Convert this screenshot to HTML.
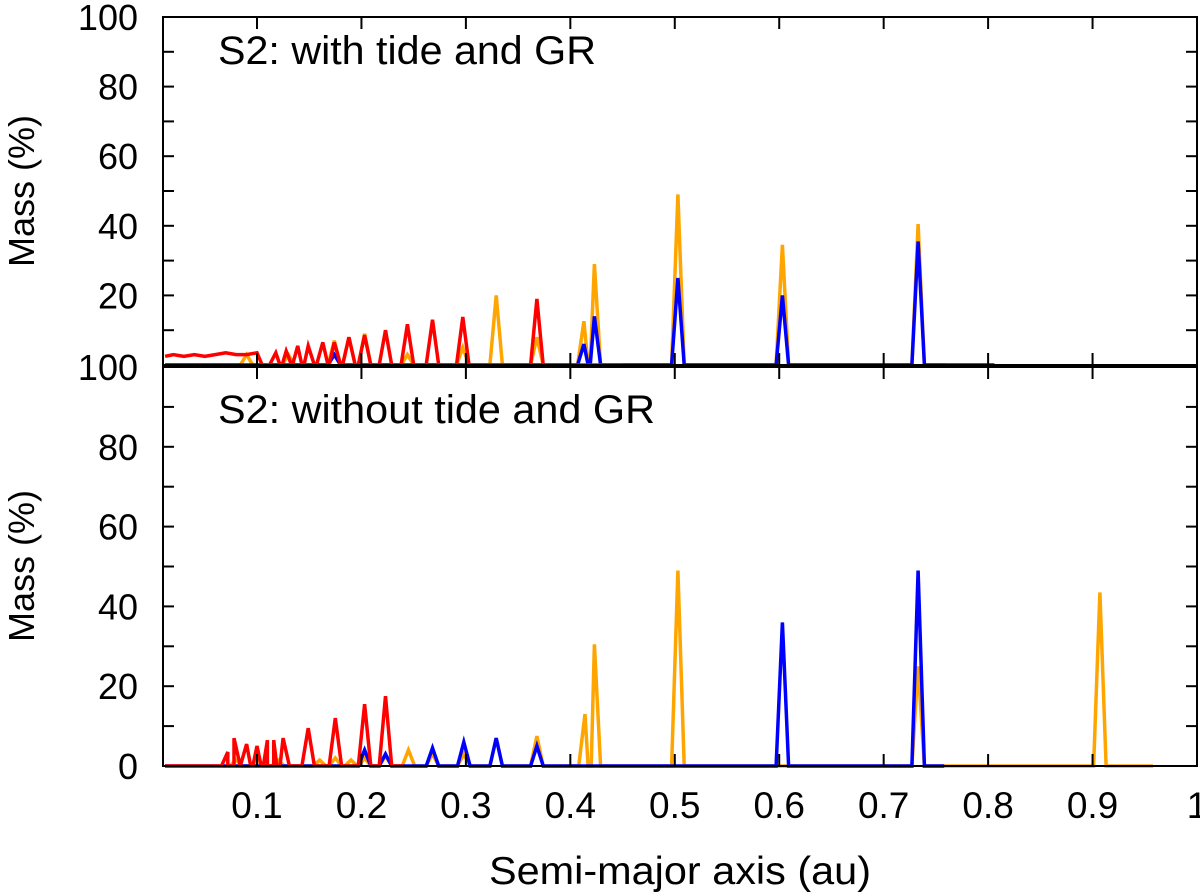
<!DOCTYPE html>
<html><head><meta charset="utf-8"><style>
html,body{margin:0;padding:0;background:#fff;}
svg{display:block;font-family:"Liberation Sans",sans-serif;}
</style></head><body>
<svg id="chart" width="1200" height="893" viewBox="0 0 1200 893">
<defs>
<clipPath id="clipTop"><rect x="163" y="15" width="1034" height="352"/></clipPath>
<clipPath id="clipBot"><rect x="163" y="365" width="1034" height="403"/></clipPath>
</defs>
<g id="marks"></g>
<g id="axes"></g>
<text x="218" y="64" font-size="40" textLength="378" lengthAdjust="spacingAndGlyphs">S2: with tide and GR</text>
<text x="218" y="423" font-size="40" textLength="437" lengthAdjust="spacingAndGlyphs">S2: without tide and GR</text>
<text x="680" y="884" font-size="39" text-anchor="middle" textLength="382" lengthAdjust="spacingAndGlyphs">Semi-major axis (au)</text>
<text transform="translate(34,191) rotate(-90)" font-size="36" text-anchor="middle">Mass (%)</text>
<text transform="translate(34,566) rotate(-90)" font-size="36" text-anchor="middle">Mass (%)</text>
</svg>
<script>
// ---- data ----
const xTicks = [0.1,0.2,0.3,0.4,0.5,0.6,0.7,0.8,0.9,1];
const xTickLabels = ["0.1","0.2","0.3","0.4","0.5","0.6","0.7","0.8","0.9","1"];
const yTicks = [0,20,40,60,80,100];
const yTickLabels = ["0","20","40","60","80","100"];
// top panel (with tide and GR)
const topRedLowA = [0.012,0.02,0.03,0.04,0.05,0.06,0.07,0.08,0.09,0.1,0.105];
const topRedLowM = [2.5,3,2.5,3,2.5,3,3.5,3,3,3.5,0];
const topRedPeakA = [0.118,0.128,0.139,0.149,0.163,0.174,0.188,0.203,0.223,0.244,0.268,0.297,0.368];
const topRedPeakM = [3.5,4,5.5,5.5,6.5,6.5,8,8.6,10,11.7,13,13.8,19];
const topOrangePeakA = [0.09,0.13,0.174,0.188,0.203,0.244,0.297,0.329,0.368,0.413,0.423,0.503,0.603,0.733];
const topOrangePeakM = [3,3,7,8,9,3,5,20,8,12.6,29,49,34.5,40.5];
const topBluePeakA = [0.174,0.413,0.423,0.503,0.603,0.733];
const topBluePeakM = [3,6,14,25,20,35.5];
const topRange = {red:[0.012,0.45], orange:[0.012,0.76], blue:[0.012,0.806]};
// bottom panel (without tide and GR)
const botRedPeakA = [0.072,0.078,0.09,0.1,0.11,0.116,0.125,0.149,0.175,0.203,0.223];
const botRedPeakM = [3.5,7,5.5,5,6.5,6.5,7,9.5,12,15.5,17.5];
const botOrangePeakA = [0.08,0.1,0.12,0.16,0.175,0.19,0.203,0.223,0.245,0.268,0.298,0.329,0.368,0.414,0.423,0.503,0.733,0.907];
const botOrangePeakM = [1.5,1.5,1.5,1.5,2,1.5,2,2.5,4,3,3,7,7.5,13,30.5,49,25,43.5];
const botBluePeakA = [0.203,0.223,0.268,0.298,0.329,0.368,0.603,0.733];
const botBluePeakM = [4,3,4.5,6,7,5,36,49];
const botRange = {red:[0.012,0.24], orange:[0.758,0.958], blue:[0.012,0.758]};

// ---- scales ----
const X0=163, X1=1197, AMIN=0.01, AMAX=1.0;
function xs(a){return X0+(a-AMIN)/(AMAX-AMIN)*(X1-X0);}
const panels = {
  top:{y0:365,y1:17},
  bot:{y0:766,y1:367}
};
function ys(p,m){const P=panels[p];return P.y0+(P.y1-P.y0)*m/100;}
const NS="http://www.w3.org/2000/svg";
const marks=document.getElementById('marks');
const axes=document.getElementById('axes');
const W=0.006;

function buildPoints(range, peakA, peakM, lowA, lowM){
  let pts=[];
  if(lowA){for(let i=0;i<lowA.length;i++)pts.push([lowA[i],lowM[i]]);}
  else pts.push([range[0],0]);
  for(let i=0;i<peakA.length;i++){
    pts.push([peakA[i]-W,0]);pts.push([peakA[i],peakM[i]]);pts.push([peakA[i]+W,0]);
  }
  pts.push([range[1],0]);
  pts.sort((p,q)=>p[0]-q[0]);
  return pts;
}
function drawSeries(panel, pts, color, name){
  const d=pts.map((p,i)=>(i?'L':'M')+xs(p[0]).toFixed(1)+','+ys(panel,p[1]).toFixed(1)).join(' ');
  const path=document.createElementNS(NS,'path');
  path.setAttribute('d',d);
  path.setAttribute('fill','none');
  path.setAttribute('stroke',color);
  path.setAttribute('stroke-width','3.5');
  path.setAttribute('stroke-linejoin','miter');
  path.setAttribute('clip-path',panel==='top'?'url(#clipTop)':'url(#clipBot)');
  
  
  marks.appendChild(path);
}
drawSeries('top',buildPoints(topRange.orange,topOrangePeakA,topOrangePeakM),'#ffa500','top-orange-series');
drawSeries('top',buildPoints(topRange.blue,topBluePeakA,topBluePeakM),'#0000ff','top-blue-series');
drawSeries('top',buildPoints(topRange.red,topRedPeakA,topRedPeakM,topRedLowA,topRedLowM),'#ff0000','top-red-series');
drawSeries('bot',buildPoints(botRange.orange,botOrangePeakA,botOrangePeakM,[0.07,0.758],[0,0]),'#ffa500','bottom-orange-series');
drawSeries('bot',buildPoints(botRange.blue,botBluePeakA,botBluePeakM),'#0000ff','bottom-blue-series');
drawSeries('bot',buildPoints(botRange.red,botRedPeakA,botRedPeakM),'#ff0000','bottom-red-series');

function line(x1,y1,x2,y2,name){
  const l=document.createElementNS(NS,'line');
  l.setAttribute('x1',x1);l.setAttribute('y1',y1);l.setAttribute('x2',x2);l.setAttribute('y2',y2);
  l.setAttribute('stroke','#000');l.setAttribute('stroke-width','2');
  
  
  axes.appendChild(l);
}
function text(x,y,s,anchor,size,name){
  const t=document.createElementNS(NS,'text');
  t.setAttribute('x',x);t.setAttribute('y',y);t.setAttribute('font-size',size);
  t.setAttribute('text-anchor',anchor);t.textContent=s;
  
  
  axes.appendChild(t);
}
['top','bot'].forEach(p=>{
  const P=panels[p];
  const r=document.createElementNS(NS,'rect');
  r.setAttribute('x',X0);r.setAttribute('y',P.y1);r.setAttribute('width',X1-X0);r.setAttribute('height',P.y0-P.y1);
  r.setAttribute('fill','none');r.setAttribute('stroke','#000');r.setAttribute('stroke-width','2');
  
  
  axes.appendChild(r);
  for(let m=0;m<=100;m+=10){
    const y=ys(p,m);
    line(X0,y,X0+11,y,p+'-y-tick');
    line(X1,y,X1-11,y,p+'-y-tick-right');
  }
  yTicks.forEach((m,i)=>{
    if(p==='top'&&m===0)return;
    text(138,ys(p,m)+13,yTickLabels[i],'end',36,p+'-y-tick-label');
  });
  xTicks.forEach(a=>{
    line(xs(a),P.y0,xs(a),P.y0-12,p+'-x-tick');
    line(xs(a),P.y1,xs(a),P.y1+12,p+'-x-tick-top');
  });
});
xTicks.forEach((a,i)=>text(xs(a),818,xTickLabels[i],'middle',37,'x-tick-label'));
</script>
</body></html>
